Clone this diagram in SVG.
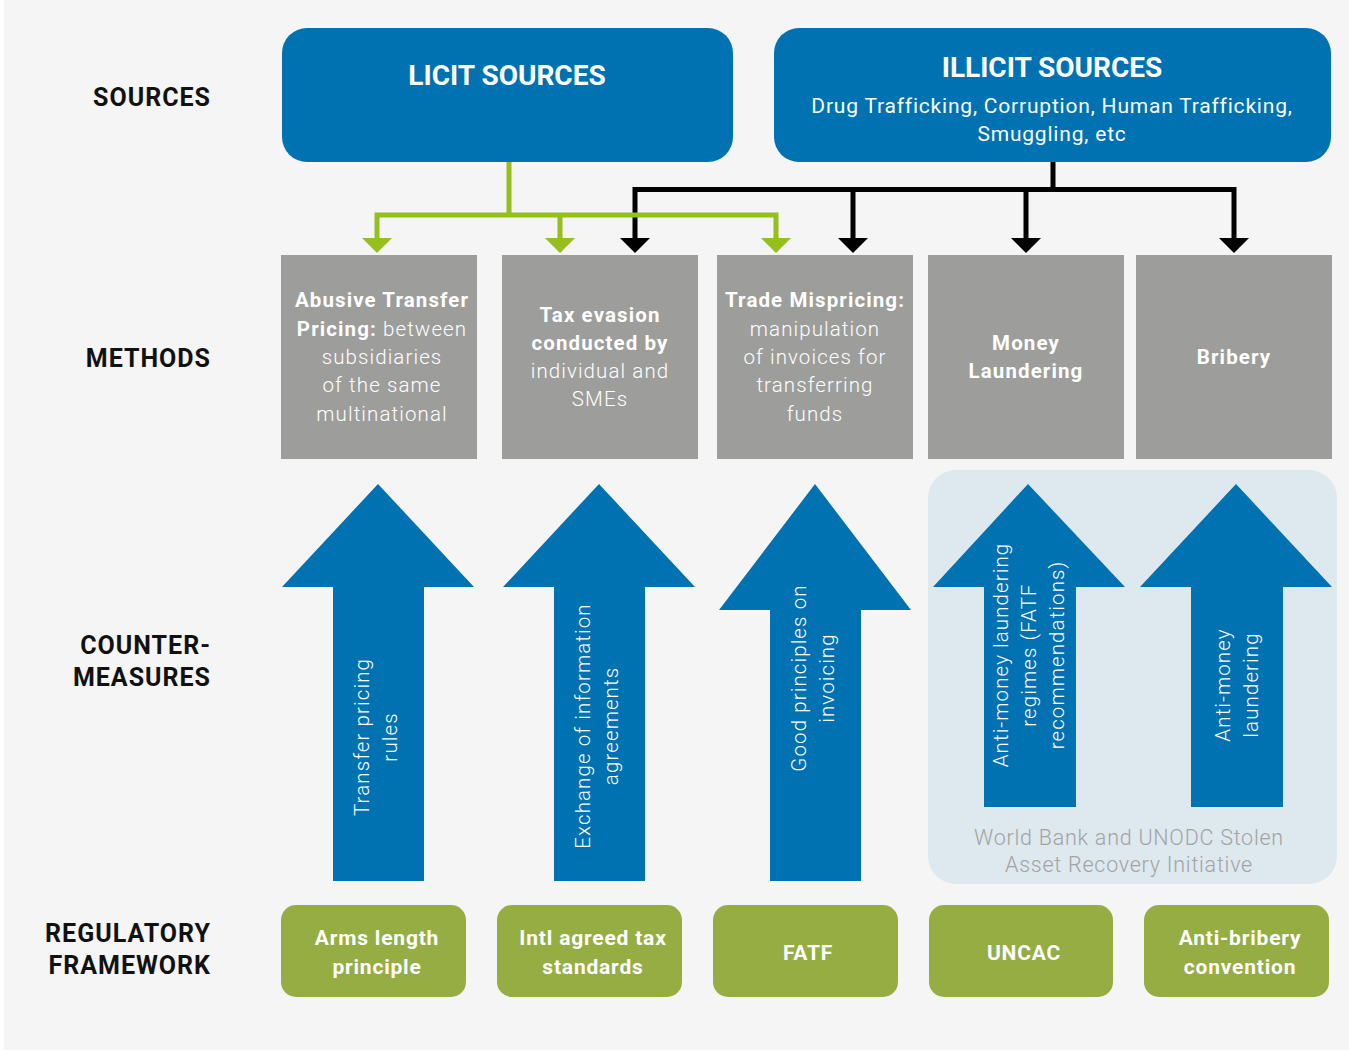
<svg xmlns="http://www.w3.org/2000/svg" width="1349" height="1054" viewBox="0 0 1349 1054">
<style>
.lbl{font-family:Roboto,"Liberation Sans",sans-serif;font-weight:700;font-size:25px;fill:#111;text-anchor:end;letter-spacing:1px}
.src{fill:#0072b1}
.srcT{font-family:Roboto,"Liberation Sans",sans-serif;font-weight:700;font-size:28px;fill:#fff;text-anchor:middle}
.srcS{font-family:Roboto,"Liberation Sans",sans-serif;font-weight:400;font-size:21px;fill:#fff;text-anchor:middle;letter-spacing:0.8px}
.meth{fill:#9d9d9b}
.mT{font-family:Roboto,"Liberation Sans",sans-serif;font-size:20.5px;fill:#fff;text-anchor:middle;font-weight:300;letter-spacing:1.1px}
.b{font-weight:700}
.arr{fill:#0072b1}
.aT{font-family:Roboto,"Liberation Sans",sans-serif;font-size:20.5px;fill:#fff;text-anchor:middle;font-weight:300;letter-spacing:1.1px}
.reg{fill:#95ad42}
.rT{font-family:Roboto,"Liberation Sans",sans-serif;font-weight:700;font-size:21px;fill:#fff;text-anchor:middle;letter-spacing:0.8px}
.pT{font-family:Roboto,"Liberation Sans",sans-serif;font-weight:300;font-size:21.5px;fill:#a3a3a3;text-anchor:middle;letter-spacing:0.75px}
.green{stroke:#95bf1e;stroke-width:5;fill:none}
.black{stroke:#000;stroke-width:5;fill:none}
</style>
<rect x="0" y="0" width="1349" height="1054" fill="#ffffff"/>
<rect x="4" y="0" width="1345" height="1050" fill="#f5f5f5"/>

<g id="row-labels">
<text class="lbl" x="211" y="106">SOURCES</text>
<text class="lbl" x="211" y="367">METHODS</text>
<text class="lbl" x="211" y="654">COUNTER-</text>
<text class="lbl" x="211" y="686">MEASURES</text>
<text class="lbl" x="211" y="942">REGULATORY</text>
<text class="lbl" x="211" y="974">FRAMEWORK</text>
</g>

<g id="licit">
<rect class="src" x="282" y="28" width="451" height="134" rx="25"/>
<text class="srcT" x="507" y="85">LICIT SOURCES</text>
</g>
<g id="illicit">
<rect class="src" x="774" y="28" width="557" height="134" rx="25"/>
<text class="srcT" x="1052" y="77">ILLICIT SOURCES</text>
<text class="srcS" x="1052" y="113">Drug Trafficking, Corruption, Human Trafficking,</text>
<text class="srcS" x="1052" y="141">Smuggling, etc</text>
</g>

<g id="connectors">
<path class="black" d="M1053 162 V189.5 M635 238 V189.5 H1234 V238 M853 189.5 V238 M1026 189.5 V238"/>
<path class="green" d="M509 162 V215 M377 238 V215 H776 V238 M560 215 V238"/>
<g fill="#95bf1e">
<polygon points="362,238 392,238 377,253"/>
<polygon points="545,238 575,238 560,253"/>
<polygon points="761,238 791,238 776,253"/>
</g>
<g fill="#000">
<polygon points="620,238 650,238 635,253"/>
<polygon points="838,238 868,238 853,253"/>
<polygon points="1011,238 1041,238 1026,253"/>
<polygon points="1219,238 1249,238 1234,253"/>
</g>
</g>

<g id="m1">
<rect class="meth" x="281" y="255" width="196" height="204"/>
<text class="mT"><tspan x="382" y="307" class="b">Abusive Transfer</tspan><tspan x="382" y="336"><tspan class="b">Pricing:</tspan> between</tspan><tspan x="382" y="364">subsidiaries</tspan><tspan x="382" y="392">of the same</tspan><tspan x="382" y="421">multinational</tspan></text>
</g>
<g id="m2">
<rect class="meth" x="502" y="255" width="196" height="204"/>
<text class="mT"><tspan x="600" y="322" class="b">Tax evasion</tspan><tspan x="600" y="350" class="b">conducted by</tspan><tspan x="600" y="378">individual and</tspan><tspan x="600" y="406">SMEs</tspan></text>
</g>
<g id="m3">
<rect class="meth" x="717" y="255" width="196" height="204"/>
<text class="mT"><tspan x="815" y="307" class="b">Trade Mispricing:</tspan><tspan x="815" y="336">manipulation</tspan><tspan x="815" y="364">of invoices for</tspan><tspan x="815" y="392">transferring</tspan><tspan x="815" y="421">funds</tspan></text>
</g>
<g id="m4">
<rect class="meth" x="928" y="255" width="196" height="204"/>
<text class="mT b"><tspan x="1026" y="350">Money</tspan><tspan x="1026" y="378">Laundering</tspan></text>
</g>
<g id="m5">
<rect class="meth" x="1136" y="255" width="196" height="204"/>
<text class="mT b" x="1234" y="364">Bribery</text>
</g>

<g id="star-panel">
<rect x="928" y="470" width="409" height="414" rx="28" fill="#dde8ef"/>
<text class="pT" x="1129" y="845">World Bank and UNODC Stolen</text>
<text class="pT" x="1129" y="872">Asset Recovery Initiative</text>
</g>

<g id="c1">
<polygon class="arr" points="378,484 474,587 424,587 424,881 333,881 333,587 282,587"/>
<text class="aT" transform="translate(378,737) rotate(-90)"><tspan x="0" y="-9">Transfer pricing</tspan><tspan x="0" y="19">rules</tspan></text>
</g>
<g id="c2">
<polygon class="arr" points="599,484 695,587 645,587 645,881 554,881 554,587 503,587"/>
<text class="aT" transform="translate(599,726) rotate(-90)"><tspan x="0" y="-9">Exchange of information</tspan><tspan x="0" y="19">agreements</tspan></text>
</g>
<g id="c3">
<polygon class="arr" points="815,484 911,610 861,610 861,881 770,881 770,610 719,610"/>
<text class="aT" transform="translate(815,678) rotate(-90)"><tspan x="0" y="-9">Good principles on</tspan><tspan x="0" y="19">invoicing</tspan></text>
</g>
<g id="c4">
<polygon class="arr" points="1028,484 1125,587 1076,587 1076,807 984,807 984,587 933,587"/>
<text class="aT" transform="translate(1029,655) rotate(-90)"><tspan x="0" y="-21">Anti-money laundering</tspan><tspan x="0" y="7">regimes (FATF</tspan><tspan x="0" y="35">recommendations)</tspan></text>
</g>
<g id="c5">
<polygon class="arr" points="1236,484 1332,587 1283,587 1283,807 1191,807 1191,587 1140,587"/>
<text class="aT" transform="translate(1237,685) rotate(-90)"><tspan x="0" y="-7">Anti-money</tspan><tspan x="0" y="21">laundering</tspan></text>
</g>

<g id="r1">
<rect class="reg" x="281" y="905" width="185" height="92" rx="15"/>
<text class="rT"><tspan x="377" y="945">Arms length</tspan><tspan x="377" y="974">principle</tspan></text>
</g>
<g id="r2">
<rect class="reg" x="497" y="905" width="185" height="92" rx="15"/>
<text class="rT"><tspan x="593" y="945">Intl agreed tax</tspan><tspan x="593" y="974">standards</tspan></text>
</g>
<g id="r3">
<rect class="reg" x="713" y="905" width="185" height="92" rx="15"/>
<text class="rT" x="808" y="960">FATF</text>
</g>
<g id="r4">
<rect class="reg" x="929" y="905" width="184" height="92" rx="15"/>
<text class="rT" x="1024" y="960">UNCAC</text>
</g>
<g id="r5">
<rect class="reg" x="1144" y="905" width="185" height="92" rx="15"/>
<text class="rT"><tspan x="1240" y="945">Anti-bribery</tspan><tspan x="1240" y="974">convention</tspan></text>
</g>
</svg>
